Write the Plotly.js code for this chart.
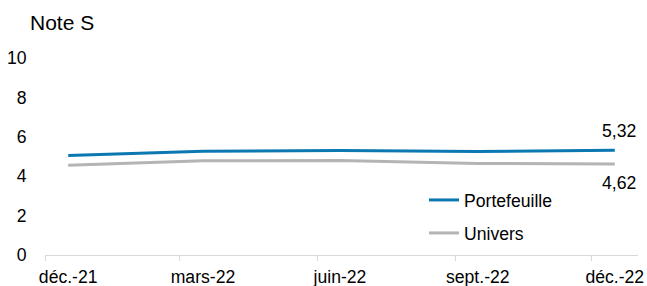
<!DOCTYPE html>
<html>
<head>
<meta charset="utf-8">
<script src="https://cdn.plot.ly/plotly-3.0.1.min.js"></script>
<style>html,body{margin:0;padding:0;background:#fff;}#chart{width:647px;height:286px;}</style>
</head>
<body>
<div id="chart"></div>
<script>
// Data
const months = ['2021-12', '2022-03', '2022-06', '2022-09', '2022-12'];
const monthLabels = ['déc.-21', 'mars-22', 'juin-22', 'sept.-22', 'déc.-22'];
const portefeuille = [5.05, 5.27, 5.30, 5.25, 5.32];
const univers = [4.55, 4.78, 4.80, 4.65, 4.62];
const yTicks = [0, 2, 4, 6, 8, 10];

function monthStart(s, add) {
  const [y, m] = s.split('-').map(Number);
  return Date.UTC(y, m - 1 + (add || 0), 1);
}
function monthMid(s) {
  return (monthStart(s) + monthStart(s, 1)) / 2;
}
function fmt(v) { return v.toFixed(2).replace('.', ','); }

const font = 'Liberation Sans, Arial, sans-serif';
const textColor = '#000000';
const blue = '#0B78B2';
const grey = '#B4B4B4';
const fs = 17.6;

const traces = [
  {
    x: months, y: portefeuille, name: 'Portefeuille', type: 'scatter', mode: 'lines',
    xperiod: 'M1', xperiodalignment: 'middle',
    line: {color: blue, width: 3}, legend: 'legend', hoverinfo: 'skip'
  },
  {
    x: months, y: univers, name: 'Univers', type: 'scatter', mode: 'lines',
    xperiod: 'M1', xperiodalignment: 'middle',
    line: {color: grey, width: 3}, legend: 'legend2', hoverinfo: 'skip'
  }
];

const lastIdx = months.length - 1;

const legendBase = {
  xref: 'paper', yref: 'paper', xanchor: 'left', yanchor: 'middle',
  bgcolor: 'rgba(0,0,0,0)', borderwidth: 0,
  font: {family: font, size: fs, color: textColor},
  itemwidth: 30, tracegroupgap: 0
};

const layout = {
  width: 647, height: 286,
  margin: {l: 45, r: 9, t: 58, b: 31, pad: 0},
  paper_bgcolor: '#ffffff', plot_bgcolor: '#ffffff',
  separators: ', ',
  font: {family: font, size: fs, color: textColor},
  title: {
    text: 'Note S', xref: 'container', yref: 'container',
    x: 30 / 647, xanchor: 'left', y: 1 - 23 / 286, yanchor: 'middle',
    font: {family: font, size: 21, color: textColor}
  },
  showlegend: true,
  legend: Object.assign({}, legendBase, {x: (424 - 45) / 593, y: (255 - 200) / 197}),
  legend2: Object.assign({}, legendBase, {x: (424 - 45) / 593, y: (255 - 233) / 197}),
  xaxis: {
    type: 'date',
    range: [monthStart(months[0]), monthStart(months[lastIdx], 1)],
    tickmode: 'array',
    tickvals: months.map(monthMid),
    ticktext: monthLabels,
    ticks: 'outside', ticklen: 6, tickcolor: 'rgba(0,0,0,0)',
    showgrid: false, zeroline: false,
    showline: true, linecolor: '#D9D9D9', linewidth: 1,
    tickfont: {family: font, size: fs, color: textColor},
    minor: {
      tickmode: 'array',
      tickvals: months.map(m => monthStart(m)),
      ticks: 'outside', ticklen: 5, tickwidth: 1, tickcolor: '#D9D9D9', showgrid: false
    },
    fixedrange: true
  },
  yaxis: {
    range: [0, 10],
    tickmode: 'array', tickvals: yTicks, ticktext: yTicks.map(String),
    ticks: 'outside', ticklen: 14, tickcolor: 'rgba(0,0,0,0)',
    showgrid: false, zeroline: false, showline: false,
    tickfont: {family: font, size: fs, color: textColor},
    fixedrange: true
  },
  annotations: [
    {
      x: monthMid(months[lastIdx]), y: portefeuille[lastIdx], xref: 'x', yref: 'y',
      text: fmt(portefeuille[lastIdx]), showarrow: false, yshift: 19, xshift: 4,
      font: {family: font, size: fs, color: textColor}
    },
    {
      x: monthMid(months[lastIdx]), y: univers[lastIdx], xref: 'x', yref: 'y',
      text: fmt(univers[lastIdx]), showarrow: false, yshift: -19, xshift: 4,
      font: {family: font, size: fs, color: textColor}
    }
  ]
};

Plotly.newPlot('chart', traces, layout, {displayModeBar: false, staticPlot: true});
</script>
</body>
</html>
